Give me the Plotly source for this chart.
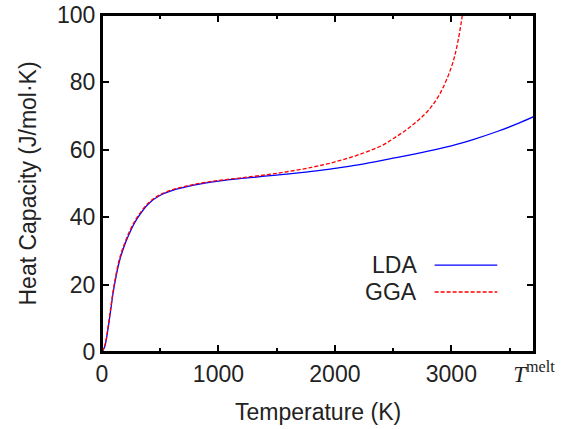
import plotly.graph_objects as go

t_melt = 3710

# LDA heat capacity (J/mol K) vs temperature (K)
lda_T = [0, 25, 50, 75, 100, 150, 200, 250, 300, 400, 500, 600, 800, 1000, 1200,
         1500, 1800, 2000, 2200, 2500, 2800, 3000, 3200, 3400, 3600, 3710]
lda_cp = [0, 1.8, 6.5, 12.5, 18.5, 27, 32.3, 36.3, 39.5, 44, 46.5, 47.9, 49.6, 50.7, 51.5,
          52.5, 53.6, 54.5, 55.5, 57.5, 59.6, 61.2, 63.2, 65.5, 68.2, 69.9]

# GGA heat capacity
gga_T = [0, 25, 50, 75, 100, 150, 200, 250, 300, 400, 500, 600, 800, 1000, 1200,
         1500, 1800, 2000, 2200, 2400, 2500, 2600, 2700, 2800, 2900, 3000, 3050, 3095]
gga_cp = [0, 2.0, 7.0, 13.1, 19.1, 27.6, 32.8, 36.8, 39.9, 44.3, 46.7, 48.1, 49.8, 50.9, 51.7,
          53.0, 54.8, 56.4, 58.5, 61.2, 63.3, 65.6, 68.3, 71.6, 76.5, 84.5, 91.0, 100.0]

x_tickvals = [0, 1000, 2000, 3000, t_melt]
x_ticktext = ["0", "1000", "2000", "3000",
              "<span style='font-family:Liberation Serif'><i>T</i><sup>melt</sup></span>"]
x_minor = [500, 1500, 2500, 3500]
y_tickvals = [0, 20, 40, 60, 80, 100]

font = "Liberation Sans, Arial, sans-serif"
fsize = 23

fig = go.Figure()
fig.add_trace(go.Scatter(x=lda_T, y=lda_cp, mode="lines", name="LDA",
                         line=dict(color="#0000ff", width=1.3, shape="spline")))
fig.add_trace(go.Scatter(x=gga_T, y=gga_cp, mode="lines", name="GGA",
                         line=dict(color="#ff0000", width=1.3, dash="4px,2px", shape="spline")))

axis_common = dict(showline=True, linecolor="black", linewidth=2, mirror="ticks",
                   ticks="inside", tickcolor="black", tickwidth=2, ticklen=7,
                   showgrid=False, zeroline=False, automargin=False,
                   ticklabeloverflow="allow",
                   tickfont=dict(family=font, size=fsize, color="#222"))
minor = dict(tickvals=x_minor, ticks="inside", ticklen=4, tickwidth=2, tickcolor="black")

fig.update_xaxes(range=[0, t_melt], tickvals=x_tickvals, ticktext=x_ticktext,
                 minor=minor, **axis_common)
fig.update_yaxes(range=[0, 100], tickvals=y_tickvals, **axis_common)

# frame
fig.add_shape(type="rect", xref="paper", yref="paper", x0=0, x1=1, y0=0, y1=1,
              line=dict(color="black", width=2))

# axis titles
fig.add_annotation(x=0.5, y=0, xref="paper", yref="paper", text="Temperature (K)",
                   showarrow=False, yanchor="middle", yshift=-60,
                   font=dict(family=font, size=fsize, color="#222"))
fig.add_annotation(x=0, y=0.5, xref="paper", yref="paper", text="Heat Capacity (J/mol·K)",
                   showarrow=False, textangle=-90, xanchor="center", xshift=-75,
                   font=dict(family=font, size=fsize, color="#222"))

# key, gnuplot style: label on the left, line sample on the right
for i, (name, color, dash) in enumerate([("LDA", "#0000ff", "solid"), ("GGA", "#ff0000", "4px,2px")]):
    yk = 0.258 - i * 0.08
    fig.add_annotation(x=0.734, y=yk, xref="paper", yref="paper", text=name, showarrow=False,
                       xanchor="right", yanchor="middle",
                       font=dict(family=font, size=fsize, color="#222"))
    fig.add_shape(type="line", xref="paper", yref="paper", x0=0.77, x1=0.915, y0=yk, y1=yk,
                  line=dict(color=color, width=1.3, dash=dash))

fig.update_layout(width=575, height=429, showlegend=False,
                  plot_bgcolor="white", paper_bgcolor="white",
                  margin=dict(l=102, r=41, t=15, b=77))

# drop the default 8px body margin so the figure sits at the page corner
fig.write_html("out.html", config={"displayModeBar": False},
               post_script="document.body.style.margin = '0px';")
